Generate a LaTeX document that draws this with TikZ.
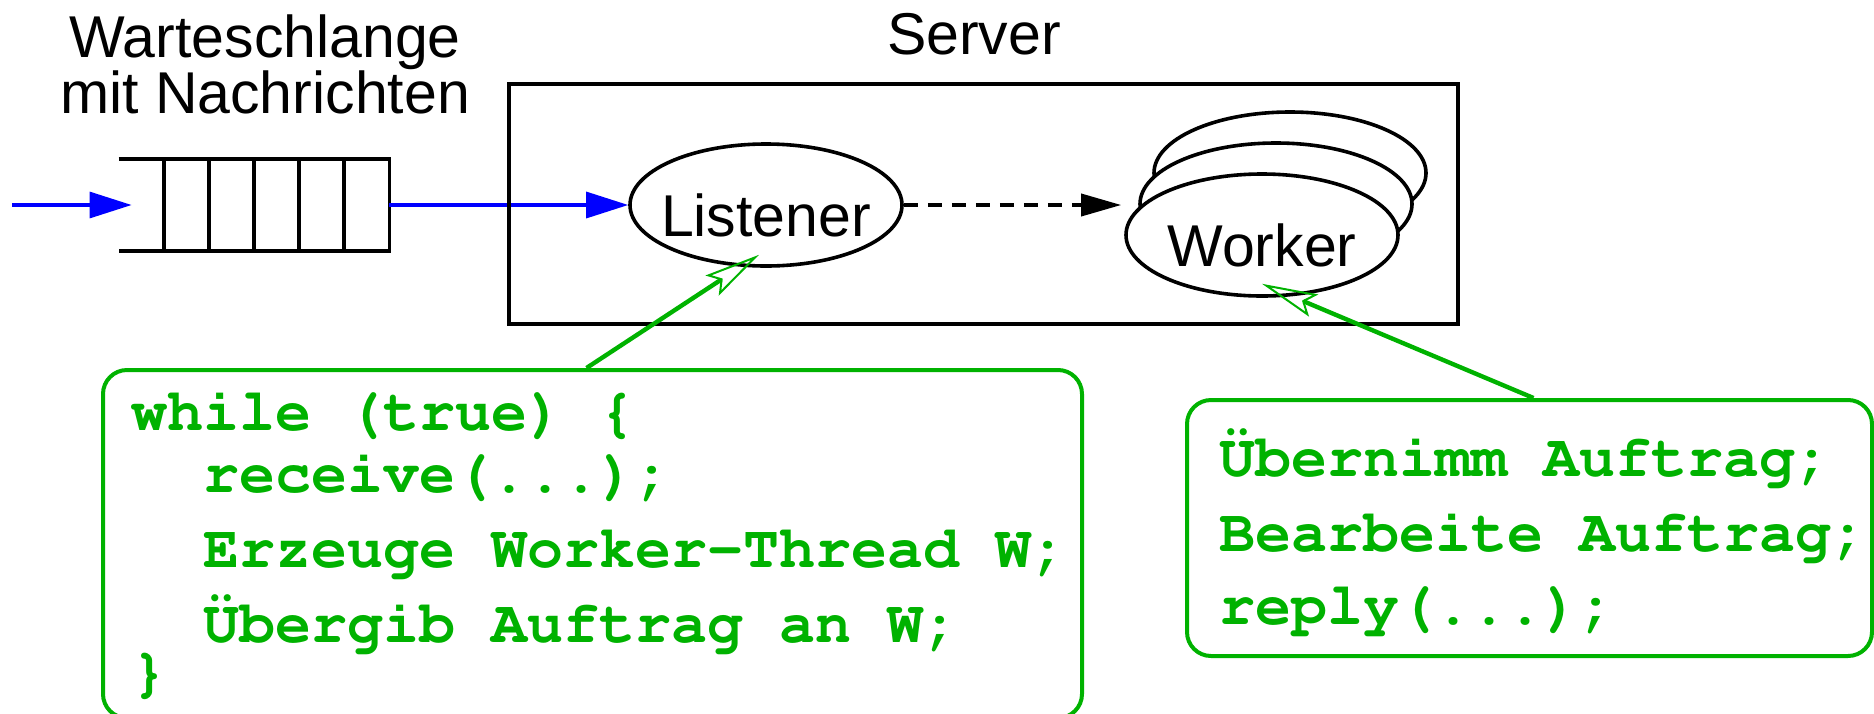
\documentclass[tikz,border=0pt]{standalone}
\usepackage[T1]{fontenc}
\usepackage{fontspec}
\setmainfont{Liberation Sans}
\usepackage{xcolor}
\usetikzlibrary{arrows.meta,shapes}
\definecolor{codegreen}{RGB}{0,178,0}
% bold Courier for the code lines
\newcommand{\codefont}{\fontencoding{T1}\fontfamily{pcr}\bfseries}

\begin{document}
\begin{tikzpicture}[x=0.5pt,y=-0.5pt,
  caption/.style={inner sep=0pt,anchor=base,font=\fontsize{29.5}{28}\selectfont},
  thread/.style={draw,line width=1.8pt,ellipse,fill=white,minimum width=136pt,minimum height=61pt,
    inner xsep=-6pt,inner ysep=0pt,text height=31pt,text depth=0pt,font=\fontsize{29.5}{30}\selectfont},
  flow/.style={blue,line width=1.6pt,-{Triangle[length=21pt,width=13pt]}},
  handoff/.style={line width=1.8pt,dash pattern=on 7pt off 5pt,shorten >=1.5pt,-{Triangle[length=20pt,width=11pt]}},
  codebox/.style={draw=codegreen,line width=2pt,rounded corners=12pt},
  code/.style={inner sep=0pt,anchor=base west,text=codegreen,font=\codefont\fontsize{30}{36}\selectfont},
  pointer/.style={codegreen,line width=2.2pt,-{Stealth[open,length=28pt,width=12pt,inset=5pt,line width=1pt]}}]
\useasboundingbox (0,0) rectangle (1874,713);

% message queue
\node[caption] (qtitle) at (265,57) {Warteschlange};
\node[caption] (qsubtitle) at (265,113) {mit Nachrichten};
\node[minimum width=135pt,minimum height=45.5pt,inner sep=0pt] (queue) at (254,205) {};
\draw[line width=1.8pt] (queue.north west) -- (queue.north east) -- (queue.south east) -- (queue.south west);
\foreach \x in {164,209,...,344}
  \draw[line width=1.8pt] (\x,159.5) -- (\x,250.5);
\coordinate (inlet) at (12,205);
\draw[flow] (inlet) -- ([xshift=6.5pt]queue.west);

% listener and worker threads
\node[thread] (listener) at (766,205) {Listener};
\draw[flow] (queue.east) -- (listener.west);
\node[thread] (worker3) at (1290,173) {};
\node[thread] (worker2) at (1276,204) {};
\node[thread] (worker) at (1262,235) {Worker};
\draw[handoff] (listener.east) -- (listener.east -| worker.west);

% server
\node[draw,line width=1.8pt,minimum width=474.5pt,minimum height=120pt] (server) at (983.5,204) {};
\node[caption] (servername) at (974,54) {Server};

% code of the listener
\node[codebox,minimum width=489.5pt,minimum height=174pt] (loopbox) at (592.5,544) {};
\node[code] (l1) at (131,430) {while (true) \{};
\node[code] (l2) at (203,492) {receive(...);};
\node[code] (l3) at (203,567) {Erzeuge Worker-Thread W;};
\node[code] (l4) at (203,642) {\"Ubergib Auftrag an W;};
\node[code] (l5) at (131,690) {\}};

% code of a worker
\node[codebox,minimum width=342.5pt,minimum height=128pt] (jobbox) at (1529.5,528) {};
\node[code] (r1) at (1219,476) {\"Ubernimm Auftrag;};
\node[code] (r2) at (1219,551) {Bearbeite Auftrag;};
\node[code] (r3) at (1219,624) {reply(...);};

\draw[pointer] ([xshift=-3pt]loopbox.north) -- ([xshift=-3.5pt,yshift=6.5pt]listener.south);
\draw[pointer] ([xshift=2pt]jobbox.north) -- ([yshift=7pt]worker.south);
\end{tikzpicture}
\end{document}
